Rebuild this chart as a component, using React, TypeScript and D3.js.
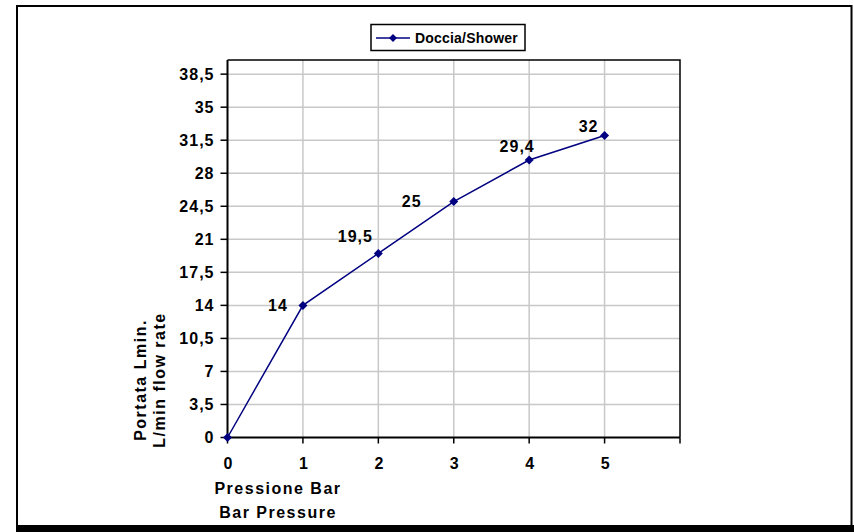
import * as d3 from 'd3';

// Doccia/Shower flow rate vs pressure
const pressures = [0, 1, 2, 3, 4, 5];
const flowRates = [0, 14, 19.5, 25, 29.4, 32];
const flowLabels = ['', '14', '19,5', '25', '29,4', '32'];
const yTicks = [0, 3.5, 7, 10.5, 14, 17.5, 21, 24.5, 28, 31.5, 35, 38.5];
const xTicks = [0, 1, 2, 3, 4, 5, 6];
const seriesName = 'Doccia/Shower';

const W = 854;
const H = 532;
const plot = { left: 227.5, right: 680, top: 60, bottom: 437.5 };
const NAVY = '#000080';
const FONT = '"Liberation Sans", Arial, sans-serif';

// label nudges relative to the point (Excel labels were dragged by hand)
const labelNudge: [number, number, string][] = [
  [0, 0, 'middle'],
  [-15, 5.5, 'end'],
  [-23, -11, 'middle'],
  [-42, 5.5, 'middle'],
  [-12, -8, 'middle'],
  [-16, -3.5, 'middle'],
];

const fmt = (v: number) => String(v).replace('.', ',');

function Diamond({ x, y, r = 4.5 }: { x: number; y: number; r?: number }) {
  return <path d={`M${x},${y - r}L${x + r},${y}L${x},${y + r}L${x - r},${y}Z`} fill={NAVY} />;
}

export default function App() {
  const x = d3.scaleLinear().domain([0, 6]).range([plot.left, plot.right]);
  const y = d3.scaleLinear().domain([0, 40]).range([plot.bottom, plot.top]);

  const line = d3
    .line<number>()
    .x((_, i) => x(pressures[i]))
    .y((d) => y(d));

  const tickStyle = { fontFamily: FONT, fontWeight: 700, fontSize: 16, letterSpacing: 1 };
  const titleStyle = { fontFamily: FONT, fontWeight: 700, fontSize: 16, letterSpacing: 1.5 };

  return (
    <svg width={W} height={H} style={{ position: 'absolute', left: 0, top: 0, background: '#fff' }}>
      {/* chart frame */}
      <rect x={17} y={6} width={834.5} height={520} fill="#fff" stroke="#000" strokeWidth={2} />
      <rect x={16} y={525} width={W - 16} height={H - 525} fill="#000" />

      {/* grid */}
      {yTicks.filter((t) => t > 0).map((t) => (
        <line key={'gy' + t} x1={plot.left} x2={plot.right} y1={y(t)} y2={y(t)} stroke="#c8c8c8" strokeWidth={1.5} />
      ))}
      {xTicks.filter((t) => t > 0 && t < 6).map((t) => (
        <line key={'gx' + t} x1={x(t)} x2={x(t)} y1={plot.top} y2={plot.bottom} stroke="#c8c8c8" strokeWidth={1.5} />
      ))}

      {/* plot border */}
      <path
        d={`M${plot.left},${plot.top}H${plot.right}V${plot.bottom}`}
        fill="none"
        stroke="#000"
        strokeWidth={1.5}
      />

      {/* axes */}
      <line x1={plot.left} x2={plot.left} y1={plot.top} y2={plot.bottom} stroke="#000" strokeWidth={2} />
      <line x1={plot.left} x2={plot.right} y1={plot.bottom} y2={plot.bottom} stroke="#000" strokeWidth={2} />
      {yTicks.map((t) => (
        <g key={'ty' + t}>
          <line x1={plot.left - 7} x2={plot.left} y1={y(t)} y2={y(t)} stroke="#000" strokeWidth={1.5} />
          <text x={plot.left - 13} y={y(t) + 5.5} textAnchor="end" style={tickStyle}>
            {fmt(t)}
          </text>
        </g>
      ))}
      {xTicks.map((t) => (
        <g key={'tx' + t}>
          <line x1={x(t)} x2={x(t)} y1={plot.bottom} y2={plot.bottom + 6} stroke="#000" strokeWidth={1.5} />
          {t < 6 && (
            <text x={x(t) + 1} y={plot.bottom + 31} textAnchor="middle" style={tickStyle}>
              {t}
            </text>
          )}
        </g>
      ))}

      {/* axis titles */}
      <text x={278} y={494} textAnchor="middle" style={titleStyle}>Pressione Bar</text>
      <text x={278} y={518} textAnchor="middle" style={titleStyle}>Bar Pressure</text>
      <g transform="translate(146,380) rotate(-90)">
        <text x={0} y={0} textAnchor="middle" style={titleStyle}>Portata Lmin.</text>
        <text x={0} y={19} textAnchor="middle" style={titleStyle}>L/min flow rate</text>
      </g>

      {/* series */}
      <path d={line(flowRates) ?? ''} fill="none" stroke={NAVY} strokeWidth={1.5} />
      {flowRates.map((v, i) => (
        <Diamond key={'m' + i} x={x(pressures[i])} y={y(v)} />
      ))}
      {flowRates.map((v, i) =>
        flowLabels[i] ? (
          <text
            key={'l' + i}
            x={x(pressures[i]) + labelNudge[i][0]}
            y={y(v) + labelNudge[i][1]}
            textAnchor={labelNudge[i][2] as 'middle' | 'end'}
            style={tickStyle}
          >
            {flowLabels[i]}
          </text>
        ) : null
      )}

      {/* legend */}
      <rect x={371} y={24.5} width={154} height={26} fill="#fff" stroke="#000" strokeWidth={1.5} />
      <line x1={376} x2={410} y1={38} y2={38} stroke={NAVY} strokeWidth={1.5} />
      <Diamond x={393} y={38} r={4} />
      <text x={415} y={43} style={{ fontFamily: FONT, fontWeight: 700, fontSize: 14, letterSpacing: 0.2 }}>
        {seriesName}
      </text>
    </svg>
  );
}
